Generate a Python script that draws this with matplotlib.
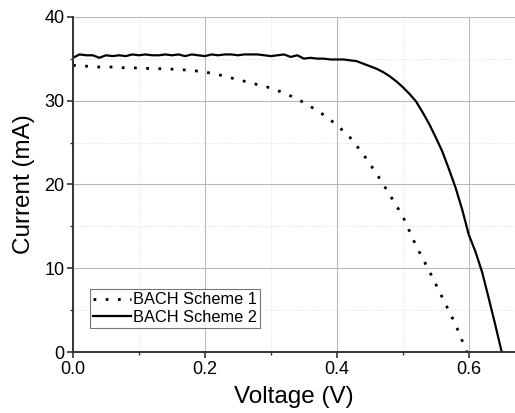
import matplotlib
matplotlib.use("Agg")
import matplotlib.pyplot as plt
from matplotlib.ticker import MultipleLocator

plt.rcParams['font.family'] = ['Liberation Sans', 'DejaVu Sans']

# --- data ---
v1 = [0.00, 0.02, 0.04, 0.06, 0.08, 0.10, 0.12, 0.14, 0.16, 0.18, 0.20, 0.22,
      0.24, 0.26, 0.28, 0.30, 0.32, 0.34, 0.36, 0.38, 0.40, 0.42, 0.44, 0.46,
      0.48, 0.50, 0.52, 0.54, 0.56, 0.58, 0.597]
i1 = [34.2, 34.1, 34.0, 34.0, 33.9, 33.9, 33.8, 33.8, 33.7, 33.6, 33.4, 33.1,
      32.7, 32.3, 31.9, 31.5, 30.9, 30.2, 29.3, 28.3, 27.1, 25.6, 23.6, 21.3,
      18.8, 16.2, 12.7, 9.7, 6.5, 3.3, 0.0]

v2 = [0.00, 0.01, 0.02, 0.03, 0.04, 0.05, 0.06, 0.07, 0.08, 0.09, 0.10, 0.11,
      0.12, 0.13, 0.14, 0.15, 0.16, 0.17, 0.18, 0.19, 0.20, 0.21, 0.22, 0.23,
      0.24, 0.25, 0.26, 0.27, 0.28, 0.29, 0.30, 0.31, 0.32, 0.33, 0.34, 0.35,
      0.36, 0.37, 0.38, 0.39, 0.40, 0.41, 0.42, 0.43, 0.44, 0.45, 0.46, 0.47,
      0.48, 0.49, 0.50, 0.51, 0.52, 0.53, 0.54, 0.55, 0.56, 0.57, 0.58, 0.59,
      0.60, 0.61, 0.62, 0.63, 0.64, 0.65]
i2 = [35.1, 35.5, 35.4, 35.4, 35.1, 35.4, 35.3, 35.4, 35.3, 35.5, 35.4, 35.5,
      35.4, 35.4, 35.5, 35.4, 35.5, 35.3, 35.5, 35.4, 35.3, 35.5, 35.4, 35.5,
      35.5, 35.4, 35.5, 35.5, 35.5, 35.4, 35.3, 35.4, 35.5, 35.2, 35.4, 35.0,
      35.1, 35.0, 35.0, 34.9, 34.9, 34.9, 34.8, 34.7, 34.4, 34.1, 33.8, 33.4,
      32.9, 32.3, 31.6, 30.8, 29.9, 28.6, 27.2, 25.6, 23.9, 21.8, 19.6, 17.0,
      14.0, 12.0, 9.6, 6.5, 3.3, 0.0]

labels = ["BACH Scheme 1", "BACH Scheme 2"]

fig = plt.figure(figsize=(5.15, 4.13), dpi=100)
ax = fig.add_axes([0.1417, 0.147, 0.8583, 0.8126])

ax.plot(v1, i1, color='black', linewidth=2.0, linestyle=(0, (1, 3.4)), label=labels[0])
ax.plot(v2, i2, color='black', linewidth=1.6, label=labels[1])

ax.set_xlim(0, 0.67)
ax.set_ylim(0, 40)
ax.xaxis.set_major_locator(MultipleLocator(0.2))
ax.xaxis.set_minor_locator(MultipleLocator(0.1))
ax.yaxis.set_major_locator(MultipleLocator(10))
ax.yaxis.set_minor_locator(MultipleLocator(5))
ax.xaxis.set_major_formatter(plt.FormatStrFormatter('%.1f'))

ax.grid(which='major', color='#b8b8b8', linewidth=0.8)
ax.grid(which='minor', color='#d8d8d8', linewidth=0.6, linestyle=':')
ax.set_axisbelow(True)

for side in ['top', 'right']:
    ax.spines[side].set_visible(False)
for side in ['left', 'bottom']:
    ax.spines[side].set_linewidth(1.4)
    ax.spines[side].set_color('#333333')

ax.tick_params(which='major', direction='out', length=4, width=1.2,
               labelsize=13, color='#333333', pad=2)
ax.tick_params(which='minor', direction='out', length=2.5, width=1.0, color='#333333')

ax.set_xlabel("Voltage (V)", fontsize=17.5, labelpad=6)
ax.set_ylabel("Current (mA)", fontsize=17.5, labelpad=7)

leg = ax.legend(loc='lower left', bbox_to_anchor=(0.038, 0.072), fontsize=11.8,
                frameon=True, fancybox=False, handlelength=2.3, handletextpad=0.15,
                borderpad=0.2, labelspacing=0.15, borderaxespad=0)
leg.get_frame().set_edgecolor('#555555')
leg.get_frame().set_linewidth(0.8)

fig.savefig("out.png", dpi=100)
